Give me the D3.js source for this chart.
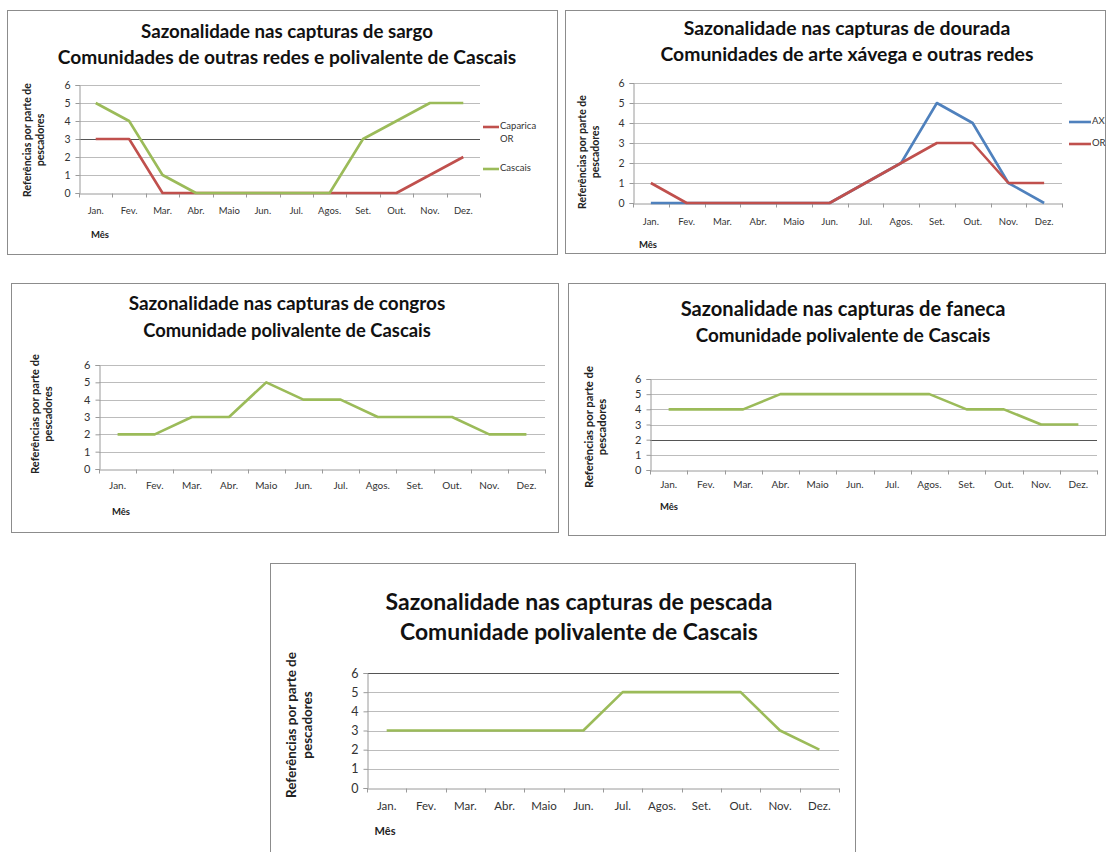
<!DOCTYPE html>
<html>
<head>
<meta charset="utf-8">
<script src="https://cdn.jsdelivr.net/npm/d3@7"></script>
<style>
  html, body { margin: 0; padding: 0; background: #fff; }
  svg { display: block; }
  text { font-family: Lato, "Open Sans", "Liberation Sans", sans-serif; fill: #222; }
</style>
</head>
<body>
<svg id="chart" width="1106" height="852"></svg>
<script>
// ---------- DATA ----------
const months = ["Jan.", "Fev.", "Mar.", "Abr.", "Maio", "Jun.", "Jul.", "Agos.", "Set.", "Out.", "Nov.", "Dez."];
const yTickValues = [0, 1, 2, 3, 4, 5, 6];
const yAxisTitle = ["Referências por parte de", "pescadores"];
const xAxisTitle = "Mês";

const sargoCaparicaOR = [3, 3, 0, 0, 0, 0, 0, 0, 0, 0, 1, 2];
const sargoCascais    = [5, 4, 1, 0, 0, 0, 0, 0, 3, 4, 5, 5];
const douradaAX       = [0, 0, 0, 0, 0, 0, 1, 2, 5, 4, 1, 0];
const douradaOR       = [1, 0, 0, 0, 0, 0, 1, 2, 3, 3, 1, 1];
const congrosCascais  = [2, 2, 3, 3, 5, 4, 4, 3, 3, 3, 2, 2];
const fanecaCascais   = [4, 4, 4, 5, 5, 5, 5, 5, 4, 4, 3, 3];
const pescadaCascais  = [3, 3, 3, 3, 3, 3, 5, 5, 5, 5, 3, 2];

const titleSargo   = ["Sazonalidade nas capturas de sargo", "Comunidades de outras redes e polivalente de Cascais"];
const titleDourada = ["Sazonalidade nas capturas de dourada", "Comunidades de arte xávega e outras redes"];
const titleCongros = ["Sazonalidade nas capturas de congros", "Comunidade polivalente de Cascais"];
const titleFaneca  = ["Sazonalidade nas capturas de faneca", "Comunidade polivalente de Cascais"];
const titlePescada = ["Sazonalidade nas capturas de pescada", "Comunidade polivalente de Cascais"];

// ---------- STYLE ----------
const GREEN = "#9bbb59", RED = "#c0504d", BLUE = "#4f81bd";

// ---------- LAYOUT ----------
const panels = [
  { box: [7, 10, 557, 254], plot: { x0: 79, x1: 480, yTop: 85, yBot: 193 },
    title: titleSargo, titleCx: 287, titleY: [33, 59], titleW: [292, 459],
    yt: { x: [28, 41], cy: 140, len: 114, fs: 9.5 }, xlabY: 210, tickFs: 9.5, yLabFs: 10.5,
    mes: { x: 100, y: 236, fs: 9.5 }, darkLevel: 3,
    series: [ { name: ["Caparica", "OR"], values: sargoCaparicaOR, color: RED, ly: 127 },
              { name: ["Cascais"], values: sargoCascais, color: GREEN, ly: 169 } ],
    legend: { x0: 483, x1: 499, tx: 500, fs: 9.5 } },
  { box: [565, 10, 1105, 253], plot: { x0: 633, x1: 1062, yTop: 83, yBot: 203 },
    title: titleDourada, titleCx: 847, titleY: [30, 56], titleW: [327, 373],
    yt: { x: [583, 596], cy: 152, len: 114, fs: 9.5 }, xlabY: 221, tickFs: 9.5, yLabFs: 10.5,
    mes: { x: 648, y: 246, fs: 9.5 }, darkLevel: null,
    series: [ { name: ["AX"], values: douradaAX, color: BLUE, ly: 122 },
              { name: ["OR"], values: douradaOR, color: RED, ly: 144 } ],
    legend: { x0: 1069, x1: 1091, tx: 1092, fs: 9.5 } },
  { box: [11, 283, 558, 532], plot: { x0: 99, x1: 545, yTop: 365, yBot: 469 },
    title: titleCongros, titleCx: 287, titleY: [305, 332], titleW: [317, 288],
    yt: { x: [36, 49], cy: 414, len: 120, fs: 10 }, xlabY: 485, tickFs: 10, yLabFs: 11,
    mes: { x: 121, y: 513, fs: 9.5 }, darkLevel: null,
    series: [ { name: null, values: congrosCascais, color: GREEN } ], legend: null },
  { box: [568, 283, 1105, 535], plot: { x0: 650, x1: 1097, yTop: 379, yBot: 470 },
    title: titleFaneca, titleCx: 843, titleY: [311, 337], titleW: [325, 295],
    yt: { x: [590, 603], cy: 427, len: 122, fs: 10 }, xlabY: 484, tickFs: 10, yLabFs: 11,
    mes: { x: 669, y: 508, fs: 9.5 }, darkLevel: 2,
    series: [ { name: null, values: fanecaCascais, color: GREEN } ], legend: null },
  { box: [270, 563, 855, 856], plot: { x0: 367, x1: 839, yTop: 673, yBot: 788 },
    title: titlePescada, titleCx: 579, titleY: [604, 634], titleW: [387, 358],
    yt: { x: [293, 309], cy: 725, len: 146, fs: 12 }, xlabY: 805, tickFs: 11.5, yLabFs: 12.5,
    mes: { x: 385, y: 832, fs: 11 }, darkLevel: 6,
    series: [ { name: null, values: pescadaCascais, color: GREEN } ], legend: null }
];

const svg = d3.select("#chart");

function fitFont(textSel, target, base) {
  const w = textSel.node().getComputedTextLength();
  const fs = base * target / w;
  textSel.attr("font-size", fs);
  return fs;
}

panels.forEach(p => {
  const g = svg.append("g");
  const [bx0, by0, bx1, by1] = p.box;
  g.append("rect").attr("x", bx0 + 0.5).attr("y", by0 + 0.5)
    .attr("width", bx1 - bx0).attr("height", by1 - by0)
    .attr("fill", "#fff").attr("stroke", "#8c8c8c").attr("stroke-width", 1);

  // titles
  p.title.forEach((t, i) => {
    const tt = g.append("text").text(t).attr("x", p.titleCx).attr("y", p.titleY[i])
      .attr("text-anchor", "middle").attr("dominant-baseline", "middle")
      .attr("font-weight", "bold").attr("font-size", 20).style("fill", "#111");
    fitFont(tt, p.titleW[i], 20);
  });

  const x = d3.scaleBand().domain(months).range([p.plot.x0, p.plot.x1]).paddingInner(0).paddingOuter(0);
  const y = d3.scaleLinear().domain([0, 6]).range([p.plot.yBot, p.plot.yTop]);

  // gridlines
  g.append("g").selectAll("line").data(yTickValues.filter(v => v > 0)).join("line")
    .attr("x1", p.plot.x0).attr("x2", p.plot.x1)
    .attr("y1", d => Math.round(y(d)) + 0.5).attr("y2", d => Math.round(y(d)) + 0.5)
    .attr("stroke", d => d === p.darkLevel ? "#555" : "#bcbcbc").attr("stroke-width", 1);

  // y axis
  const yAxis = d3.axisLeft(y).tickValues(yTickValues).tickSize(4).tickPadding(5).tickFormat(d3.format("d"));
  const ya = g.append("g").attr("transform", `translate(${p.plot.x0 + 0.5},0)`).call(yAxis);
  ya.select(".domain").attr("stroke", "#9a9a9a");
  ya.selectAll(".tick line").attr("stroke", "#9a9a9a");
  ya.selectAll(".tick text").attr("font-size", p.yLabFs).style("fill", "#333").attr("font-family", "Lato, 'Open Sans', sans-serif");

  // x axis
  const xAxis = d3.axisBottom(x).tickSize(0).tickPadding(0);
  const xa = g.append("g").attr("transform", `translate(0,${Math.round(p.plot.yBot) + 0.5})`).call(xAxis);
  xa.select(".domain").attr("stroke", "#9a9a9a");
  xa.selectAll(".tick text").attr("font-size", p.tickFs).style("fill", "#333")
    .attr("y", p.xlabY - Math.round(p.plot.yBot)).attr("dy", "0.35em")
    .attr("font-family", "Lato, 'Open Sans', sans-serif");
  // category boundary tick marks
  const bounds = months.map(m => x(m)).concat([p.plot.x1]);
  xa.append("g").selectAll("line").data(bounds).join("line")
    .attr("x1", d => Math.round(d) + 0.5).attr("x2", d => Math.round(d) + 0.5)
    .attr("y1", 0).attr("y2", 4).attr("stroke", "#9a9a9a");

  // y title
  let ytFs = p.yt.fs;
  yAxisTitle.forEach((t, i) => {
    const tt = g.append("text").text(t)
      .attr("transform", `translate(${p.yt.x[i]},${p.yt.cy}) rotate(-90)`)
      .attr("text-anchor", "middle").attr("dominant-baseline", "middle")
      .attr("font-weight", "bold").attr("font-size", p.yt.fs).style("fill", "#222");
    if (i === 0) ytFs = fitFont(tt, p.yt.len, p.yt.fs);
    else tt.attr("font-size", ytFs);
  });

  // x title
  g.append("text").text(xAxisTitle).attr("x", p.mes.x).attr("y", p.mes.y)
    .attr("text-anchor", "middle").attr("dominant-baseline", "middle")
    .attr("font-weight", "bold").attr("font-size", p.mes.fs).style("fill", "#222");

  // lines
  const line = d3.line().x((d, i) => x(months[i]) + x.bandwidth() / 2).y(d => y(d));
  p.series.forEach(s => {
    g.append("path").datum(s.values).attr("d", line)
      .attr("fill", "none").attr("stroke", s.color).attr("stroke-width", 2.6)
      .attr("stroke-linejoin", "round").attr("stroke-linecap", "butt");
  });

  // legend
  if (p.legend) {
    p.series.forEach(s => {
      g.append("line").attr("x1", p.legend.x0).attr("x2", p.legend.x1)
        .attr("y1", s.ly).attr("y2", s.ly).attr("stroke", s.color).attr("stroke-width", 2.6);
      s.name.forEach((n, k) => {
        g.append("text").text(n).attr("x", p.legend.tx).attr("y", s.ly + k * 13)
          .attr("dominant-baseline", "middle").attr("font-size", p.legend.fs).style("fill", "#333");
      });
    });
  }
});
</script>
</body>
</html>
